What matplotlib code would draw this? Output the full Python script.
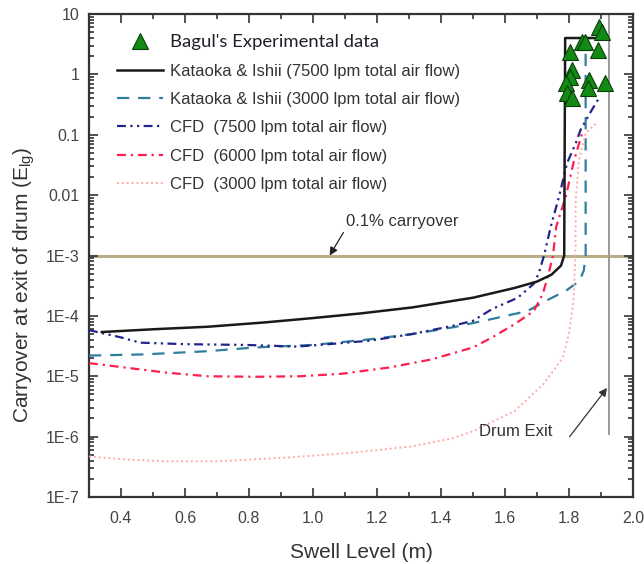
import numpy as np
import matplotlib
matplotlib.use('Agg')
import matplotlib.pyplot as plt
from matplotlib.ticker import FixedLocator, LogLocator, NullFormatter, MultipleLocator
from matplotlib.lines import Line2D

plt.rcParams['font.family'] = ['Liberation Sans', 'DejaVu Sans']
plt.rcParams['mathtext.fontset'] = 'custom'
plt.rcParams['mathtext.rm'] = 'Liberation Sans'

# --- data ---
exp_x = [1.894, 1.903, 1.841, 1.850, 1.891, 1.803, 1.810, 1.803, 1.863, 1.913, 1.790, 1.860, 1.794, 1.810]
exp_y = [6.1, 5.0, 3.4, 3.4, 2.5, 2.35, 1.18, 0.9, 0.81, 0.72, 0.72, 0.6, 0.49, 0.41]

ki7500_x = [0.34, 0.50, 0.67, 0.85, 1.00, 1.15, 1.31, 1.50, 1.63, 1.70, 1.745, 1.775, 1.785, 1.788, 1.91]
ki7500_y = [5.4e-5, 6.0e-5, 6.6e-5, 7.8e-5, 9.2e-5, 1.1e-4, 1.38e-4, 2.0e-4, 2.9e-4, 3.7e-4, 4.8e-4, 6.8e-4, 1.0e-3, 4.0, 4.0]

ki3000_x = [0.30, 0.47, 0.67, 0.82, 1.00, 1.18, 1.31, 1.44, 1.56, 1.67, 1.73, 1.79, 1.833, 1.846, 1.852, 1.852, 1.91]
ki3000_y = [2.2e-5, 2.3e-5, 2.6e-5, 3.0e-5, 3.3e-5, 4.1e-5, 5.0e-5, 6.5e-5, 8.9e-5, 1.2e-4, 1.8e-4, 2.6e-4, 3.8e-4, 5.6e-4, 1e-3, 4.0, 4.0]

cfd7500_x = [0.30, 0.40, 0.46, 0.60, 0.79, 0.95, 1.05, 1.18, 1.31, 1.44, 1.50, 1.56, 1.64, 1.69, 1.705, 1.722,
             1.743, 1.769, 1.794, 1.821, 1.836, 1.868, 1.894]
cfd7500_y = [5.8e-5, 4.4e-5, 3.6e-5, 3.4e-5, 3.3e-5, 3.1e-5, 3.4e-5, 3.9e-5, 5.0e-5, 6.9e-5, 8.3e-5, 1.3e-4, 2.0e-4,
             3.4e-4, 5.0e-4, 1e-3, 3e-3, 9.5e-3, 0.034, 0.072, 0.12, 0.24, 0.41]

cfd6000_x = [0.30, 0.41, 0.54, 0.67, 0.82, 0.96, 1.09, 1.24, 1.37, 1.50, 1.56, 1.63, 1.69, 1.718, 1.735, 1.75,
             1.76, 1.79, 1.816, 1.842]
cfd6000_y = [1.65e-5, 1.4e-5, 1.15e-5, 1.0e-5, 9.8e-6, 1.0e-5, 1.1e-5, 1.4e-5, 1.9e-5, 3.0e-5, 4.4e-5, 7.3e-5,
             1.2e-4, 2.3e-4, 4.7e-4, 1e-3, 3e-3, 9.5e-3, 0.038, 0.11]

cfd3000_x = [0.30, 0.41, 0.54, 0.70, 0.92, 1.12, 1.31, 1.44, 1.50, 1.63, 1.72, 1.78, 1.80, 1.814, 1.82, 1.821,
             1.831, 1.852, 1.888]
cfd3000_y = [4.7e-7, 4.2e-7, 3.9e-7, 3.9e-7, 4.5e-7, 5.4e-7, 6.9e-7, 9.5e-7, 1.23e-6, 2.65e-6, 7.4e-6, 2.0e-5,
             5e-5, 1.8e-4, 1e-3, 8.3e-3, 0.038, 0.107, 0.16]

carryover_limit = 1e-3
drum_exit_x = 1.925
drum_exit_ybottom = 1.1e-6

y_ticks = [1e-7, 1e-6, 1e-5, 1e-4, 1e-3, 1e-2, 1e-1, 1, 10]
y_ticklabels = ['1E-7', '1E-6', '1E-5', '1E-4', '1E-3', '0.01', '0.1', '1', '10']

fig = plt.figure(figsize=(6.44, 5.64), dpi=100)
ax = fig.add_axes([89 / 644, 67 / 564, 544 / 644, 483 / 564])
ax.set_yscale('log')
ax.set_xlim(0.3, 2.0)
ax.set_ylim(1e-7, 10)

# reference lines
ax.axhline(carryover_limit, color='#b9ae88', lw=2.2, zorder=1)
ax.plot([drum_exit_x, drum_exit_x], [drum_exit_ybottom, 10], color='#9a9a9a', lw=1.4, zorder=1)

ax.plot(ki3000_x, ki3000_y, color='#2f7f9c', lw=1.6, dashes=(5.5, 4), zorder=3)
ax.plot(cfd7500_x, cfd7500_y, color='#23238c', lw=1.6, dashes=(4, 2, 1, 2, 1, 2), zorder=3)
ax.plot(cfd6000_x, cfd6000_y, color='#ff1f4f', lw=1.6, dashes=(4, 2.2, 1, 2.2), zorder=3)
ax.plot(cfd3000_x, cfd3000_y, color='#ffaaaa', lw=1.4, dashes=(1, 1.5), zorder=3)
ax.plot(ki7500_x, ki7500_y, color='#1a1a1a', lw=1.8, zorder=4)
ax.plot(exp_x, exp_y, ls='none', marker='^', ms=12, mfc='#138a13', mec='#0b3d0b', mew=0.8, zorder=5)

# annotations
ax.annotate('', xy=(1.052, 1e-3), xytext=(1.095, 2.4e-3),
            arrowprops=dict(arrowstyle='-|>', color='#222222', lw=0.9, mutation_scale=12, shrinkA=0, shrinkB=0))
ax.text(1.102, 3.6e-3, '0.1% carryover', fontsize=12, color='#333333', va='center', ha='left')
ax.annotate('', xy=(1.919, 6.4e-6), xytext=(1.802, 1.0e-6),
            arrowprops=dict(arrowstyle='-|>', color='#333333', lw=0.9, mutation_scale=12, shrinkA=0, shrinkB=0))
ax.text(1.632, 1.2e-6, 'Drum Exit', fontsize=12, color='#333333', va='center', ha='center')

# ticks
ax.yaxis.set_major_locator(FixedLocator(y_ticks))
ax.set_yticklabels(y_ticklabels)
ax.yaxis.set_minor_locator(LogLocator(base=10, subs=np.arange(2, 10), numticks=100))
ax.yaxis.set_minor_formatter(NullFormatter())
ax.xaxis.set_minor_locator(MultipleLocator(0.1))
ax.set_xticks(np.arange(0.4, 2.01, 0.2))
ax.set_xticklabels(['%.1f' % v for v in np.arange(0.4, 2.01, 0.2)])
ax.tick_params(which='both', direction='in', top=True, right=True, colors='#333333',
               labelsize=11.5, labelcolor='#444444', width=1.2)
ax.tick_params(which='major', length=6.5)
ax.tick_params(which='minor', length=3.5)
ax.tick_params(axis='x', pad=10)
ax.tick_params(axis='y', pad=7)
for s in ax.spines.values():
    s.set_linewidth(1.6)
    s.set_color('#333333')

ax.set_xlabel('Swell Level (m)', fontsize=15, color='#333333')
ax.xaxis.label.set_va('center')
ax.xaxis.set_label_coords(0.5, -0.114)
ax.set_ylabel(r'Carryover at exit of drum (E$_{\mathregular{lg}}$)', fontsize=15, color='#333333')
ax.yaxis.label.set_va('center')
ax.yaxis.set_label_coords(-0.12, 0.44)

handles = [
    Line2D([], [], ls='none', marker='^', ms=12, mfc='#138a13', mec='#0b3d0b', mew=0.8),
    Line2D([], [], color='#1a1a1a', lw=1.8),
    Line2D([], [], color='#2f7f9c', lw=1.6, dashes=(5.5, 4)),
    Line2D([], [], color='#23238c', lw=1.6, dashes=(4, 2, 1, 2, 1, 2)),
    Line2D([], [], color='#ff1f4f', lw=1.6, dashes=(4, 2.2, 1, 2.2)),
    Line2D([], [], color='#ffaaaa', lw=1.4, dashes=(1, 1.5)),
]
labels = ["Bagul's Experimental data",
          'Kataoka & Ishii (7500 lpm total air flow)',
          'Kataoka & Ishii (3000 lpm total air flow)',
          'CFD  (7500 lpm total air flow)',
          'CFD  (6000 lpm total air flow)',
          'CFD  (3000 lpm total air flow)']
leg = ax.legend(handles, labels, loc='upper left', bbox_to_anchor=(0.051, 0.958), frameon=False,
                fontsize=12, handlelength=2.75, handletextpad=0.42, labelspacing=0.8,
                borderpad=0, borderaxespad=0, numpoints=1)
for t in leg.get_texts():
    t.set_color('#333333')
leg.get_texts()[0].set_fontfamily('Lato')
leg.get_texts()[0].set_fontsize(13.3)
leg.get_texts()[0].set_color('#1f1f2a')

fig.savefig('out.png', dpi=100)
